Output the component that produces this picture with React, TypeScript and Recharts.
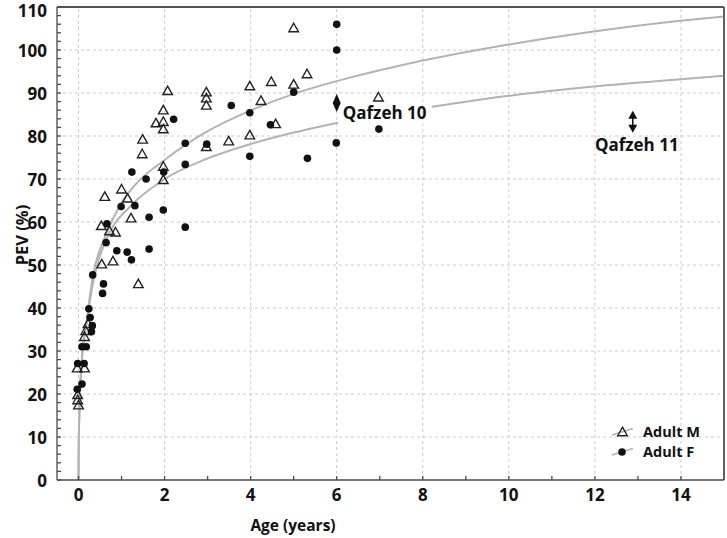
import { ComposedChart, Scatter, Line, XAxis, YAxis, ReferenceLine, Legend, Label } from "recharts"

// Adult M (open triangles)
const maleAge = [
  2.07, 1.97, 1.8, 1.97, 1.97, 1.49, 1.48, 1.97, 1.97, 1.0, 0.61, 1.14, 2.97, 2.97, 2.97, 2.97, 3.49, 3.98, 3.98, 5.0,
  5.31, 4.48, 5.0, 4.24, 6.97, 4.58, 1.22, 0.53, 0.72, 0.86, 0.8, 0.54, 1.39, 0.22, 0.17, 0.14, -0.03, 0.14, -0.02, -0.02,
  0.0,
]
const malePev = [
  90.5, 86.0, 83.0, 83.3, 81.6, 79.2, 75.8, 72.9, 69.8, 67.6, 65.9, 65.5, 90.2, 88.8, 87.1, 77.5, 78.8, 91.6, 80.2, 105.1,
  94.4, 92.6, 92.0, 88.2, 89.0, 82.8, 60.9, 59.1, 57.9, 57.6, 50.9, 50.2, 45.6, 36.3, 34.7, 33.3, 26.0, 26.0, 19.8, 18.6,
  17.4,
]

// Adult F (filled circles)
const femaleAge = [
  2.21, 2.48, 2.48, 1.98, 1.24, 1.57, 2.98, 3.55, 3.98, 3.98, 0.99, 1.31, 1.97, 1.64, 0.66, 2.48, 0.64, 0.89, 1.13, 1.23,
  1.64, 0.33, 0.58, 0.56, 0.24, 0.27, 0.32, 0.3, 0.08, 0.18, -0.02, 0.13, 0.08, -0.03, 6.0, 6.0, 5.0, 4.46, 6.98, 5.99,
  5.32,
]
const femalePev = [
  83.9, 78.3, 73.4, 71.6, 71.6, 70.0, 78.1, 87.1, 85.4, 75.3, 63.6, 63.8, 62.8, 61.1, 59.6, 58.8, 55.2, 53.3, 53.0, 51.2,
  53.7, 47.7, 45.6, 43.4, 39.8, 37.8, 35.9, 34.5, 31.0, 31.0, 27.1, 27.1, 22.3, 21.1, 106.0, 100.0, 90.2, 82.6, 81.6, 78.4,
  74.8,
]

// fitted curves
const upperCurveAge = [0, 0.005, 0.02, 0.07, 0.19, 0.34, 0.62, 0.97, 1.35, 1.97, 2.98, 3.99, 5.0, 6.24, 7.48, 9.96, 11.97, 13.99, 15]
const upperCurvePev = [0, 8, 15.6, 27, 37.2, 47.7, 56.6, 64, 69, 74.2, 81.0, 85.9, 89.8, 93.4, 96.4, 101.2, 104.3, 106.8, 107.8]
const lowerCurveAge = [0, 0.005, 0.02, 0.07, 0.19, 0.34, 0.42, 0.73, 1.2, 1.97, 2.98, 3.99, 5.0, 6.03]
const lowerCurvePev = [0, 8, 15.6, 26.5, 36.5, 46, 49.5, 57.7, 63.6, 69.8, 74.7, 78.1, 80.8, 83.1]
const lowerTailAge = [8.21, 9.96, 11.97, 13.99, 15]
const lowerTailPev = [86.8, 89.3, 91.5, 93.2, 94.0]

const qafzeh10 = [{ x: 6.0, y: 87.7, name: "Qafzeh 10" }]
const qafzeh11 = [{ x: 12.88, y: 83.3, name: "Qafzeh 11" }]

const xMajor = [0, 2, 4, 6, 8, 10, 12, 14]
const xMinor = [0, 1, 2, 3, 4, 5, 6, 7, 8, 9, 10, 11, 12, 13, 14]
const yMajor = [10, 20, 30, 40, 50, 60, 70, 80, 90, 100]
const yMinor = [
  0, 2, 4, 6, 8, 10, 12, 14, 16, 18, 20, 22, 24, 26, 28, 30, 32, 34, 36, 38, 40, 42, 44, 46, 48, 50, 52, 54, 56, 58, 60,
  62, 64, 66, 68, 70, 72, 74, 76, 78, 80, 82, 84, 86, 88, 90, 92, 94, 96, 98, 100, 102, 104, 106, 108, 110,
]

const toPoints = (xs: number[], ys: number[]) => xs.map((x, i) => ({ x, y: ys[i] }))

const FONT = "'Open Sans', 'Liberation Sans', sans-serif"
const AXIS = "#4a4a4a"
const CURVE = "#b3b3b3"
const GRID = "#cccccc"
const tickStyle = { fontFamily: FONT, fontSize: 17, fontWeight: 700, fill: "#111" }

// eslint-disable-next-line @typescript-eslint/no-explicit-any
function YTick({ x, y, payload }: any) {
  const v = payload.value as number
  if (v % 10 !== 0) return null
  return (
    <text x={x} y={Math.max(y, 10)} textAnchor="end" dominantBaseline="central" {...tickStyle}>
      {v}
    </text>
  )
}

// eslint-disable-next-line @typescript-eslint/no-explicit-any
function TriangleDot({ cx, cy }: any) {
  if (cx == null || cy == null) return null
  return (
    <path
      d={`M${cx},${cy - 4.8}L${cx + 4.8},${cy + 3.7}L${cx - 4.8},${cy + 3.7}Z`}
      fill="none"
      stroke="#222"
      strokeWidth={1.4}
    />
  )
}

// eslint-disable-next-line @typescript-eslint/no-explicit-any
function CircleDot({ cx, cy }: any) {
  if (cx == null || cy == null) return null
  return <circle cx={cx} cy={cy} r={3.8} fill="#111" />
}

// eslint-disable-next-line @typescript-eslint/no-explicit-any
function Qafzeh10Mark({ cx, cy, payload }: any) {
  if (cx == null) return null
  return (
    <g>
      <path d={`M${cx},${cy - 9}L${cx + 4},${cy}L${cx},${cy + 9}L${cx - 4},${cy}Z`} fill="#111" />
      <text x={cx + 6} y={cy + 16} fontFamily={FONT} fontSize={17} fontWeight={700} fill="#111">
        {payload.name}
      </text>
    </g>
  )
}

// eslint-disable-next-line @typescript-eslint/no-explicit-any
function Qafzeh11Mark({ cx, cy, payload }: any) {
  if (cx == null) return null
  return (
    <g>
      <path d={`M${cx},${cy - 11}L${cx + 4.5},${cy - 3}L${cx - 4.5},${cy - 3}Z`} fill="#111" />
      <path d={`M${cx},${cy + 11}L${cx + 4.5},${cy + 3}L${cx - 4.5},${cy + 3}Z`} fill="#111" />
      <line x1={cx} y1={cy - 4} x2={cx} y2={cy + 4} stroke="#111" strokeWidth={1.5} />
      <text x={cx + 4} y={cy + 29} textAnchor="middle" fontFamily={FONT} fontSize={17} fontWeight={700} fill="#111">
        {payload.name}
      </text>
    </g>
  )
}

function LegendBox() {
  return (
    <svg width={120} height={46}>
      <line x1={6} y1={17} x2={27} y2={10.5} stroke={CURVE} strokeWidth={1.5} />
      <TriangleDot cx={16.5} cy={14} />
      <text x={37} y={19} fontFamily={FONT} fontSize={14.5} fontWeight={700} fill="#111">Adult M</text>
      <line x1={6} y1={37} x2={27} y2={30.5} stroke={CURVE} strokeWidth={1.5} />
      <CircleDot cx={16} cy={34} />
      <text x={37} y={39} fontFamily={FONT} fontSize={14.5} fontWeight={700} fill="#111">Adult F</text>
    </svg>
  )
}

const fmtX = (v: number) => (v % 2 === 0 ? String(v) : "")

export default function App() {
  return (
    <div style={{ width: 727, height: 538, position: "relative" }}>
      <style>{"body{margin:0}"}</style>
      <ComposedChart width={727} height={538} margin={{ top: 6, right: 2, bottom: 0, left: 0 }}>
        <XAxis
          xAxisId="x"
          type="number"
          dataKey="x"
          domain={[-0.5, 15]}
          ticks={xMinor}
          interval={0}
          tickFormatter={fmtX}
          tickSize={-4}
          tickMargin={13}
          height={58}
          allowDataOverflow
          stroke={AXIS}
          strokeWidth={1.3}
          tick={tickStyle}
        >
          <Label
            // eslint-disable-next-line @typescript-eslint/no-explicit-any
            content={({ viewBox }: any) => (
              <text x={viewBox.x + 236} y={viewBox.y + 51} textAnchor="middle" fontFamily={FONT} fontSize={15.5} fontWeight={700} fill="#111">
                Age (years)
              </text>
            )}
          />
        </XAxis>
        <XAxis
          xAxisId="top"
          orientation="top"
          type="number"
          domain={[-0.5, 15]}
          ticks={xMinor}
          interval={0}
          tick={false}
          tickSize={-4}
          height={1}
          allowDataOverflow
          stroke={AXIS}
          strokeWidth={1.3}
        />
        <YAxis
          yAxisId="y"
          type="number"
          dataKey="y"
          domain={[0, 110]}
          ticks={yMinor}
          interval={0}
          tick={<YTick />}
          tickSize={-4}
          tickMargin={14}
          width={57}
          allowDataOverflow
          stroke={AXIS}
          strokeWidth={1.3}
        >
          <Label
            // eslint-disable-next-line @typescript-eslint/no-explicit-any
            content={({ viewBox }: any) => {
              const cx = viewBox.x + 21
              const cy = viewBox.y + 228
              return (
                <text x={cx} y={cy} transform={`rotate(-90 ${cx} ${cy})`} textAnchor="middle" dominantBaseline="central" fontFamily={FONT} fontSize={16.5} fontWeight={700} fill="#111">
                  PEV (%)
                </text>
              )
            }}
          />
        </YAxis>
        <YAxis
          yAxisId="right"
          orientation="right"
          type="number"
          domain={[0, 110]}
          ticks={yMinor}
          interval={0}
          tick={false}
          tickSize={-4}
          width={1}
          allowDataOverflow
          stroke={AXIS}
          strokeWidth={1.3}
        />

        {xMajor.map((v) => (
          <ReferenceLine key={`gx${v}`} xAxisId="x" yAxisId="y" x={v} stroke={GRID} strokeDasharray="3 3" />
        ))}
        {yMajor.map((v) => (
          <ReferenceLine key={`gy${v}`} xAxisId="x" yAxisId="y" y={v} stroke={GRID} strokeDasharray="3 3" />
        ))}
        <ReferenceLine xAxisId="x" yAxisId="y" x={15} stroke={AXIS} strokeWidth={1.3} />
        <ReferenceLine xAxisId="x" yAxisId="y" y={110} stroke={AXIS} strokeWidth={1.3} />

        <Line xAxisId="x" yAxisId="y" data={toPoints(upperCurveAge, upperCurvePev)} dataKey="y" type="monotone" stroke={CURVE} strokeWidth={2} dot={false} activeDot={false} isAnimationActive={false} />
        <Line xAxisId="x" yAxisId="y" data={toPoints(lowerCurveAge, lowerCurvePev)} dataKey="y" type="monotone" stroke={CURVE} strokeWidth={2} dot={false} activeDot={false} isAnimationActive={false} />
        <Line xAxisId="x" yAxisId="y" data={toPoints(lowerTailAge, lowerTailPev)} dataKey="y" type="monotone" stroke={CURVE} strokeWidth={2} dot={false} activeDot={false} isAnimationActive={false} />

        <Scatter name="Adult M" xAxisId="x" yAxisId="y" data={toPoints(maleAge, malePev)} shape={<TriangleDot />} isAnimationActive={false} />
        <Scatter name="Adult F" xAxisId="x" yAxisId="y" data={toPoints(femaleAge, femalePev)} shape={<CircleDot />} isAnimationActive={false} />
        <Scatter xAxisId="x" yAxisId="y" data={qafzeh10} shape={<Qafzeh10Mark />} isAnimationActive={false} />
        <Scatter xAxisId="x" yAxisId="y" data={qafzeh11} shape={<Qafzeh11Mark />} isAnimationActive={false} />

        <Legend
          layout="vertical"
          align="center"
          verticalAlign="middle"
          wrapperStyle={{ left: 606, top: 418, width: 120, height: 46 }}
          content={() => <LegendBox />}
        />
      </ComposedChart>
    </div>
  )
}
